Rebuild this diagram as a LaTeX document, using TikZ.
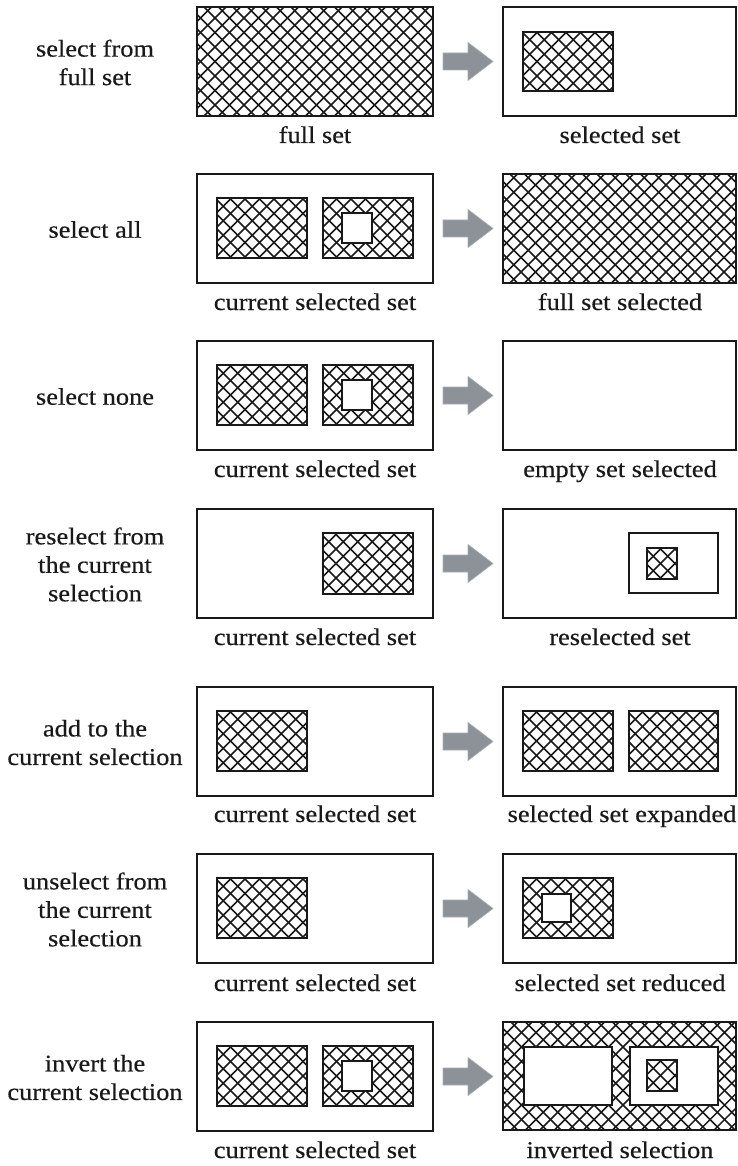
\documentclass[tikz,border=0pt]{standalone}
\usepackage{fontspec}
\setmainfont[FakeStretch=1.1,FakeBold=0.4]{Liberation Serif}
\definecolor{arrowgray}{RGB}{140,146,152}
\definecolor{ink}{RGB}{25,25,25}
\newcommand\lblfont{\fontsize{24}{28.5}\selectfont}
\def\hd{14.5}
\tikzset{
  boxline/.style={line width=2.8pt, draw=ink},
  hatchline/.style={line width=1.45pt, draw=ink},
  blockarrow/.style={fill=arrowgray, draw=arrowgray!75!white, line width=0.6pt},
  lbl/.style={align=center, inner sep=0pt, font=\lblfont, text=ink},
  captxt/.style={anchor=base, inner sep=0pt, font=\lblfont, text=ink},
}
% hatched rectangle with border
\newcommand\hatchrect[4]{%
  \begin{scope}
    \clip (#1,#2) rectangle (#3,#4);
    \pgfmathsetmacro\hatchH{#4-#2}
    \pgfmathtruncatemacro\hatchN{(#3-#1+#4-#2)/\hd+1}
    \foreach \i in {0,...,\hatchN}{
      \draw[hatchline] ({#1-\hatchH+\i*\hd},#2) -- ++(\hatchH,\hatchH);
      \draw[hatchline] ({#1-\hatchH+\i*\hd},#4) -- ++(\hatchH,-\hatchH);
    }
  \end{scope}
  \draw[boxline] (#1,#2) rectangle (#3,#4);
}
% white rectangle with border
\newcommand\plainrect[4]{\filldraw[boxline, fill=white] (#1,#2) rectangle (#3,#4);}
% block arrow centred at row-local y = 54.5
\newcommand\rowarrow{%
  \filldraw[blockarrow] (443,46) -- (468,46) -- (468,35.5) -- (493,54.5)
    -- (468,73.5) -- (468,63) -- (443,63) -- cycle;}
\begin{document}
\begin{tikzpicture}[x=1pt,y=-1pt]
\fill[white] (0,0) rectangle (738,1166);
\useasboundingbox (0,0) rectangle (738,1166);

% ---------- row 1 ----------
\begin{scope}[shift={(0,7)}]
  \hatchrect{197}{0}{433}{109}
  \rowarrow
  \plainrect{503}{0}{736}{109}
  \hatchrect{523}{25}{613}{84}
  \node[lbl] (lbl1) at (95,55.5) {select from\\full set};
  \node[captxt] (capL1) at (315,136) {full set};
  \node[captxt] (capR1) at (620,136) {selected set};
\end{scope}

% ---------- row 2 ----------
\begin{scope}[shift={(0,174)}]
  \plainrect{197}{0}{433}{109}
  \hatchrect{217}{24}{307}{84}
  \hatchrect{323}{24}{413}{84}
  \plainrect{342}{39}{372}{69}
  \rowarrow
  \hatchrect{503}{0}{736}{109}
  \node[lbl] (lbl2) at (95,55.5) {select all};
  \node[captxt] (capL2) at (315,136) {current selected set};
  \node[captxt] (capR2) at (620,136) {full set selected};
\end{scope}

% ---------- row 3 ----------
\begin{scope}[shift={(0,341)}]
  \plainrect{197}{0}{433}{109}
  \hatchrect{217}{24}{307}{84}
  \hatchrect{323}{24}{413}{84}
  \plainrect{342}{39}{372}{69}
  \rowarrow
  \plainrect{503}{0}{736}{109}
  \node[lbl] (lbl3) at (95,55.5) {select none};
  \node[captxt] (capL3) at (315,136) {current selected set};
  \node[captxt] (capR3) at (620,136) {empty set selected};
\end{scope}

% ---------- row 4 ----------
\begin{scope}[shift={(0,509)}]
  \plainrect{197}{0}{433}{109}
  \hatchrect{323}{24}{413}{85}
  \rowarrow
  \plainrect{503}{0}{736}{109}
  \plainrect{629}{24}{718}{84}
  \hatchrect{647}{39}{677}{70}
  \node[lbl] (lbl4) at (95,55.5) {reselect from\\the current\\selection};
  \node[captxt] (capL4) at (315,136) {current selected set};
  \node[captxt] (capR4) at (620,136) {reselected set};
\end{scope}

% ---------- row 5 ----------
\begin{scope}[shift={(0,687)}]
  \plainrect{197}{0}{433}{109}
  \hatchrect{217}{24}{307}{84}
  \rowarrow
  \plainrect{503}{0}{736}{109}
  \hatchrect{523}{24}{613}{84}
  \hatchrect{629}{24}{718}{84}
  \node[lbl] (lbl5) at (95,55.5) {add to the\\current selection};
  \node[captxt] (capL5) at (315,135) {current selected set};
  \node[captxt] (capR5) at (622,135) {selected set expanded};
\end{scope}

% ---------- row 6 ----------
\begin{scope}[shift={(0,854)}]
  \plainrect{197}{0}{433}{109}
  \hatchrect{217}{24}{307}{84}
  \rowarrow
  \plainrect{503}{0}{736}{109}
  \hatchrect{523}{24}{613}{84}
  \plainrect{542}{40}{571}{68}
  \node[lbl] (lbl6) at (95,55.5) {unselect from\\the current\\selection};
  \node[captxt] (capL6) at (315,137) {current selected set};
  \node[captxt] (capR6) at (620,137) {selected set reduced};
\end{scope}

% ---------- row 7 ----------
\begin{scope}[shift={(0,1022)}]
  \plainrect{197}{0}{433}{109}
  \hatchrect{217}{24}{307}{84}
  \hatchrect{323}{24}{413}{84}
  \plainrect{342}{39}{372}{69}
  \rowarrow
  \hatchrect{503}{0}{736}{108}
  \plainrect{524}{25}{612}{83}
  \plainrect{630}{25}{718}{83}
  \hatchrect{647}{38}{677}{69}
  \node[lbl] (lbl7) at (95,55.5) {invert the\\current selection};
  \node[captxt] (capL7) at (315,136) {current selected set};
  \node[captxt] (capR7) at (620,136) {inverted selection};
\end{scope}
\end{tikzpicture}
\end{document}
